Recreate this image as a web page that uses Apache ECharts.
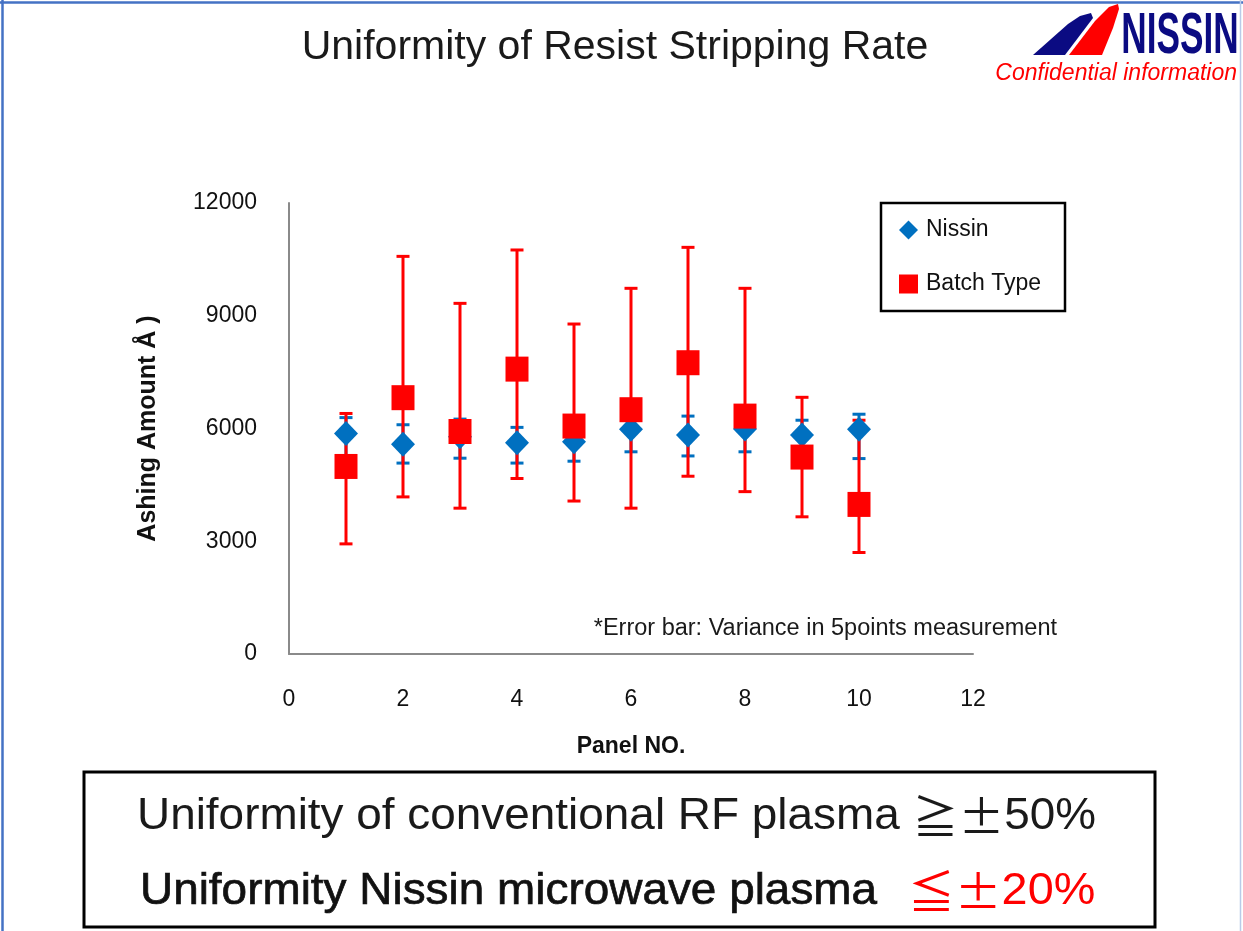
<!DOCTYPE html>
<html><head><meta charset="utf-8">
<script src="https://cdn.jsdelivr.net/npm/echarts/dist/echarts.min.js"></script>
<style>html,body{margin:0;padding:0;background:#fff}#c{width:1243px;height:931px}</style>
</head><body><div id="c"></div>
<script>
// ---- data ----
const panels     = [1, 2, 3, 4, 5, 6, 7, 8, 9, 10];
const nissin     = [5870, 5580, 5780, 5620, 5650, 5980, 5830, 5985, 5830, 5980];
const nissinHigh = [6290, 6100, 6250, 6030, 6160, 6570, 6330, 6590, 6220, 6380];
const nissinLow  = [5100, 5080, 5210, 5080, 5130, 5380, 5270, 5380, 5440, 5200];
const batch      = [4990, 6820, 5920, 7580, 6065, 6500, 7750, 6330, 5240, 3980];
const batchHigh  = [6400, 10580, 9330, 10750, 8780, 9730, 10820, 9730, 6830, 6220];
const batchLow   = [2930, 4180, 3880, 4670, 4070, 3880, 4730, 4320, 3650, 2700];
const yTicks = [0, 3000, 6000, 9000, 12000];
const xTicks = [0, 2, 4, 6, 8, 10, 12];
const seriesNames = ['Nissin', 'Batch Type'];

const chart = echarts.init(document.getElementById('c'), null, {renderer: 'canvas'});

function errRender(color, capW, lw) {
  return function (params, api) {
    const x = api.value(0), lo = api.value(1), hi = api.value(2);
    const t = api.coord([x, hi]), b = api.coord([x, lo]);
    const st = {stroke: color, lineWidth: lw};
    return {type: 'group', children: [
      {type: 'line', shape: {x1: t[0], y1: t[1], x2: b[0], y2: b[1]}, style: st},
      {type: 'line', shape: {x1: t[0] - capW / 2, y1: t[1], x2: t[0] + capW / 2, y2: t[1]}, style: st},
      {type: 'line', shape: {x1: b[0] - capW / 2, y1: b[1], x2: b[0] + capW / 2, y2: b[1]}, style: st}
    ]};
  };
}

const BLUE = '#0070C0', RED = '#FF0000';
const FONT = '"Liberation Sans", Arial, sans-serif';
const CJK = '"Noto Sans CJK JP", sans-serif';

chart.setOption({
  animation: false,
  backgroundColor: '#ffffff',
  grid: {left: 289, right: 270, top: 203, bottom: 277},
  legend: {
    left: 899, top: 218, orient: 'vertical', itemGap: 30, padding: 0,
    itemWidth: 19, itemHeight: 19,
    data: [{name: seriesNames[0], icon: 'diamond'}, {name: seriesNames[1], icon: 'rect'}],
    textStyle: {fontFamily: FONT, fontSize: 23, color: '#111', lineHeight: 24, padding: [0, 0, 0, 3]}
  },
  xAxis: {
    type: 'value', min: xTicks[0], max: xTicks[xTicks.length - 1], interval: 2,
    name: 'Panel NO.', nameLocation: 'middle', nameGap: 81,
    nameTextStyle: {fontFamily: FONT, fontSize: 23, fontWeight: 'bold', color: '#111'},
    axisLine: {show: true, onZero: false, lineStyle: {color: '#8a8a8a', width: 2}},
    axisTick: {show: false},
    splitLine: {show: false},
    axisLabel: {margin: 34, fontFamily: FONT, fontSize: 23, color: '#111', formatter: v => String(v)}
  },
  yAxis: {
    type: 'value', min: yTicks[0], max: yTicks[yTicks.length - 1], interval: 3000,
    name: 'Ashing Amount Å )', nameLocation: 'middle', nameGap: 128, nameRotate: 90,
    nameTextStyle: {fontFamily: FONT, fontSize: 25, fontWeight: 'bold', color: '#111'},
    axisLine: {show: true, lineStyle: {color: '#8a8a8a', width: 2}},
    axisTick: {show: false},
    splitLine: {show: false},
    axisLabel: {margin: 32, fontFamily: FONT, fontSize: 23, color: '#111', formatter: v => String(v)}
  },
  series: [
    {name: 'Nissin error', type: 'custom', z: 2, silent: true,
     renderItem: errRender(BLUE, 13, 3), encode: {x: 0, y: [1, 2]},
     data: panels.map((p, i) => [p, nissinLow[i], nissinHigh[i]])},
    {name: 'Batch error', type: 'custom', z: 3, silent: true,
     renderItem: errRender(RED, 13, 3), encode: {x: 0, y: [1, 2]},
     data: panels.map((p, i) => [p, batchLow[i], batchHigh[i]])},
    {name: seriesNames[0], type: 'scatter', z: 4, symbol: 'diamond', symbolSize: [24, 25],
     itemStyle: {color: BLUE, opacity: 1},
     data: panels.map((p, i) => [p, nissin[i]])},
    {name: seriesNames[1], type: 'scatter', z: 5, symbol: 'rect', symbolSize: [23, 25],
     itemStyle: {color: RED, opacity: 1},
     data: panels.map((p, i) => [p, batch[i]])}
  ],
  graphic: [
    // page borders
    {type: 'line', shape: {x1: 0, y1: 2.5, x2: 1243, y2: 2.5}, style: {stroke: '#4472C4', lineWidth: 2.5}},
    {type: 'line', shape: {x1: 2.5, y1: 0, x2: 2.5, y2: 931}, style: {stroke: '#4472C4', lineWidth: 2.5}},
    {type: 'line', shape: {x1: 1240.5, y1: 0, x2: 1240.5, y2: 931}, style: {stroke: '#b9cbe8', lineWidth: 1.5}},
    // title
    {type: 'text', x: 615, y: 48, style: {text: 'Uniformity of Resist Stripping Rate', fontFamily: FONT, fontSize: 41, fill: '#1a1a1a', align: 'center', verticalAlign: 'middle'}},
    // logo
    {type: 'polygon', shape: {points: [[1033, 55], [1065, 55], [1093, 18], [1091, 13], [1080, 16], [1068, 24]]}, style: {fill: '#0b0b82'}},
    {type: 'polygon', shape: {points: [[1069, 55], [1102, 55], [1113, 28], [1119, 9], [1118, 4], [1109, 7], [1095, 21]]}, style: {fill: '#ff0000'}},
    {type: 'text', x: 1180, y: 37, scaleX: 0.88, scaleY: 1.45, style: {text: 'NISSIN', fontFamily: FONT, fontWeight: 'bold', fontSize: 40, fill: '#0b0b82', align: 'center', verticalAlign: 'middle'}},
    {type: 'text', x: 1237, y: 74, style: {text: 'Confidential information', fontFamily: FONT, fontStyle: 'italic', fontSize: 23, fill: '#ff0000', align: 'right', verticalAlign: 'middle'}},
    // legend border
    {type: 'rect', z: 10, shape: {x: 881, y: 203, width: 184, height: 108}, style: {fill: 'none', stroke: '#000', lineWidth: 2.5}},
    // note
    {type: 'text', x: 1057, y: 629, style: {text: '*Error bar: Variance in 5points measurement', fontFamily: FONT, fontSize: 23.5, fill: '#1a1a1a', align: 'right', verticalAlign: 'middle'}},
    // bottom box
    {type: 'rect', shape: {x: 84, y: 772, width: 1071, height: 155}, style: {fill: '#fff', stroke: '#000', lineWidth: 3}},
    {type: 'text', x: 137, y: 817, scaleX: 1.02, style: {
      text: '{a|Uniformity of conventional RF plasma }{c|≧±}{a|50%}', align: 'left', verticalAlign: 'middle',
      rich: {
        a: {fontFamily: FONT, fontSize: 45, fill: '#1a1a1a'},
        c: {fontFamily: CJK, fontSize: 45, fill: '#1a1a1a'}
      }}},
    {type: 'text', x: 140, y: 892, scaleX: 1.02, style: {text: 'Uniformity Nissin microwave plasma', fontFamily: FONT, fontSize: 45,
      fill: '#111', stroke: '#111', lineWidth: 0.7, align: 'left', verticalAlign: 'middle'}},
    {type: 'text', x: 908, y: 892, scaleX: 1.04, style: {
      text: '{c|≦±}{a|20%}', align: 'left', verticalAlign: 'middle',
      rich: {
        a: {fontFamily: FONT, fontSize: 45, fill: '#ff0000'},
        c: {fontFamily: CJK, fontSize: 45, fill: '#ff0000'}
      }}}
  ]
});
</script>
</body></html>
